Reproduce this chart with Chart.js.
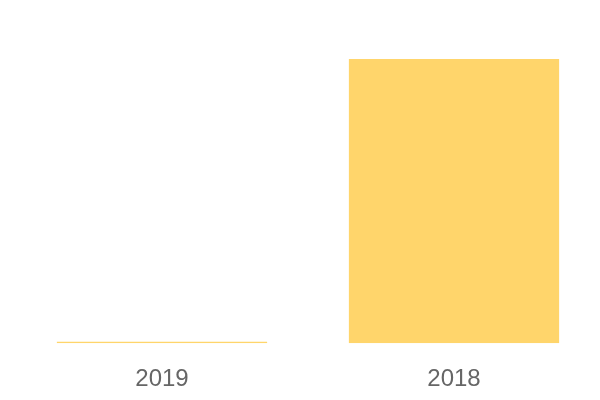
<!DOCTYPE html>
<html>
<head>
<meta charset="utf-8">
<script src="https://cdn.jsdelivr.net/npm/chart.js@4/dist/chart.umd.min.js"></script>
<style>
  html, body { margin: 0; padding: 0; background: #fff; }
  #wrap { width: 600px; height: 400px; }
</style>
</head>
<body>
<div id="wrap"><canvas id="bar-chartcanvas"></canvas></div>
<script>
// chart data
var years = ["2019", "2018"];
var values = [0, 100];

var ctx = document.getElementById("bar-chartcanvas");

var chart = new Chart(ctx, {
    type: "bar",
    data: {
        labels: years,
        datasets: [
            {
                data: values,
                backgroundColor: "#ffd56b",
                borderWidth: 0,
                minBarLength: 1.5,
                categoryPercentage: 0.9,
                barPercentage: 0.8
            }
        ]
    },
    options: {
        responsive: true,
        maintainAspectRatio: false,
        animation: false,
        layout: {
            padding: { left: 16, right: 0, top: 59, bottom: -16 }
        },
        plugins: {
            legend: { display: false },
            tooltip: { enabled: false }
        },
        scales: {
            x: {
                grid: { display: false, drawTicks: false, tickLength: 0 },
                border: { display: false },
                ticks: {
                    color: "#666666",
                    padding: 22,
                    font: { family: "'Liberation Sans', Arial, sans-serif", size: 24 }
                }
            },
            y: {
                display: false,
                min: 0,
                max: 100
            }
        }
    }
});
</script>
</body>
</html>
